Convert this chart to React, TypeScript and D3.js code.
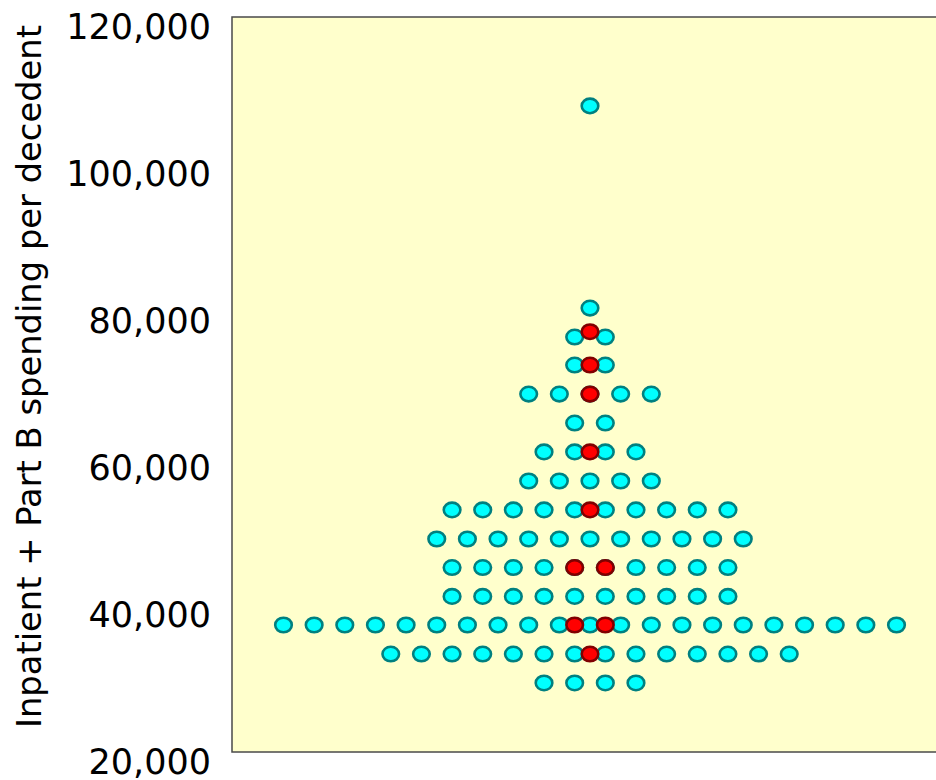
import React from "react";
import * as d3 from "d3";

// Binned rows of cyan dots: row value and number of dots in row
const rowValues = [107900, 80400, 76460, 72650, 68700, 64760, 60820, 56870, 52930, 48980, 45100, 41160, 37280, 33330, 29390];
const rowCounts = [1, 1, 2, 2, 5, 2, 4, 5, 10, 11, 10, 10, 21, 14, 4];

// Highlighted (red) dots: value and horizontal slot offset
const redValues = [77180, 72650, 68700, 60820, 52930, 45100, 45100, 37280, 37280, 33330];
const redOffsets = [0, 0, 0, 0, 0, -0.5, 0.5, -0.5, 0.5, 0];

const yTicks = [20000, 40000, 60000, 80000, 100000, 120000];
const yTitle = "Inpatient + Part B spending per decedent";

const W = 936;
const H = 780;
const plotLeft = 232;
const plotRight = 948;
const plotTop = 17;
const plotBottom = 752;

export default function App() {
  const y = d3.scaleLinear().domain([20000, 120000]).range([plotBottom, plotTop]);
  const x = d3.scaleLinear().domain([-11.68, 11.68]).range([plotLeft, plotRight]);
  const fmt = d3.format(",");

  const cyan: { v: number; s: number }[] = [];
  rowValues.forEach((v, i) => {
    const n = rowCounts[i];
    for (let k = 0; k < n; k++) {
      cyan.push({ v, s: k - (n - 1) / 2 });
    }
  });

  const font = "'DejaVu Sans', sans-serif";

  return (
    <svg
      width={W}
      height={H}
      style={{ position: "absolute", left: 0, top: 0, display: "block" }}
    >
      <rect x={0} y={0} width={W} height={H} fill="#ffffff" />
      <rect
        x={plotLeft}
        y={plotTop}
        width={plotRight - plotLeft}
        height={plotBottom - plotTop}
        fill="#FFFFCC"
        stroke="#4a4a4a"
        strokeWidth={1.5}
      />
      {yTicks.map((t) => (
        <text
          key={t}
          x={211}
          y={y(t) + 21.5}
          textAnchor="end"
          fontFamily={font}
          fontSize={35}
          fill="#000"
        >
          {fmt(t)}
        </text>
      ))}
      <text
        transform={`translate(41, ${(25 + 728) / 2}) rotate(-90)`}
        textAnchor="middle"
        fontFamily={font}
        fontSize={34}
        textLength={703}
        lengthAdjust="spacingAndGlyphs"
        fill="#000"
      >
        {yTitle}
      </text>
      {cyan.map((d, i) => (
        <ellipse
          key={"c" + i}
          cx={x(d.s)}
          cy={y(d.v)}
          rx={8.3}
          ry={7.3}
          fill="#00FFFF"
          stroke="#008080"
          strokeWidth={2.6}
        />
      ))}
      {redValues.map((v, i) => (
        <ellipse
          key={"r" + i}
          cx={x(redOffsets[i])}
          cy={y(v)}
          rx={8.3}
          ry={7.3}
          fill="#FF0000"
          stroke="#800000"
          strokeWidth={2.6}
        />
      ))}
    </svg>
  );
}
